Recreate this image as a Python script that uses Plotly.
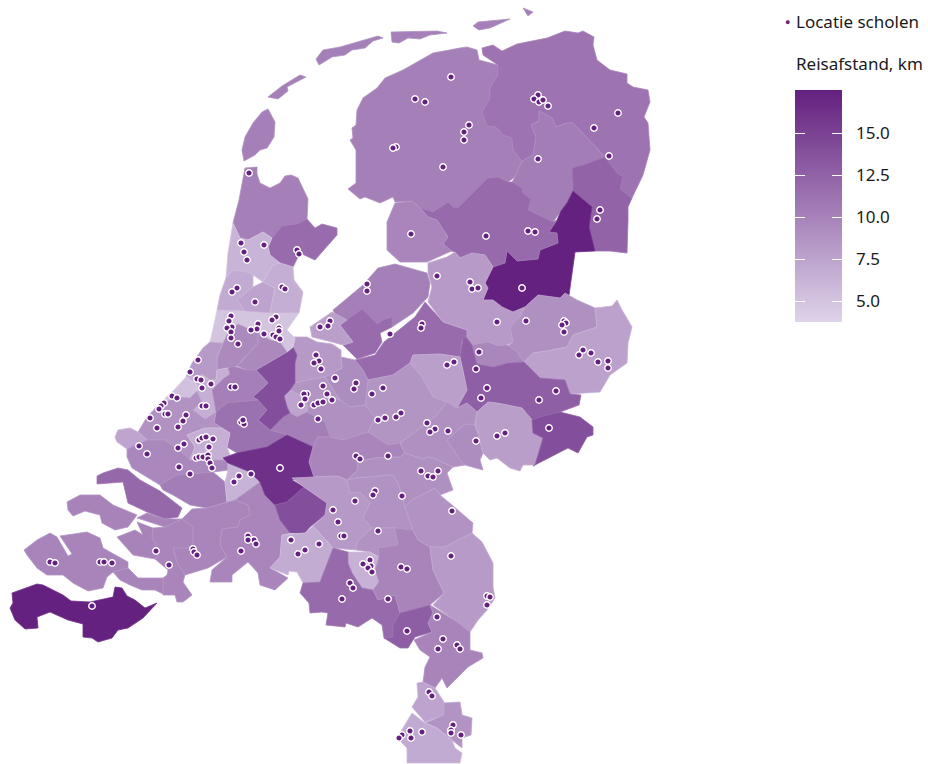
import numpy as np
import plotly.graph_objects as go
from plotly.colors import sample_colorscale

# Colour scale / legend
scale_min = 3.75
scale_max = 17.56
colorscale = [[0, "#DED4EA"], [1, "#64207F"]]
legend_ticks = [5.0, 7.5, 10.0, 12.5, 15.0]
legend_ticktext = ["5.0", "7.5", "10.0", "12.5", "15.0"]
legend_title = "Reisafstand, km"
points_name = "Locatie scholen"

# Regions: name -> travel distance, outline in map units
region_values = {
 "Texel":10.2,"Vlieland":10.2,"Terschelling":10.2,"Ameland":10.2,"Schiermonnikoog":10.2,"Rottum":10.2,
 "Friesland":10.2,"Groningen":11.1,"NoordDrenthe":10.4,"ZODrenthe":12.4,"Vechtdal":17.5,"ZWDrenthe":11.9,
 "NOPolder":9.8,"Flevoland":10.2,"Almere":11.8,"Gooi":7.8,"Veluwe":11.8,"Zwolle":8.2,"TwenteW":9.0,"TwenteO":7.7,
 "Salland":9.7,"Achterhoek":12.7,"Zutphen":7.8,"VeluweZ":8.6,"Ede":9.3,"Amersfoort":8.3,"UtrechtZ":9.0,"Zeist":8.6,
 "Nieuwegein":7.5,"Vianen":10.3,
 "Woerden":14.0,"Amsterdam":5.0,"Haarlemmermeer":9.4,"Amstelveen":9.5,"KopNH":10.2,"WestFriesland":11.8,"Alkmaar":6.2,
 "Kennemerland":6.9,"Zaan":7.5,"Waterland":6.7,"Bollen":8.2,"Wassenaar":6.6,"DenHaag":5.2,"Alphen":10.2,"Gouda":11.3,
 "Delfland":8.8,"Rotterdam":6.6,"Brielle":7.4,"Voorne":9.6,"Hoeksche":10.4,"Goeree":12.0,"Schouwen":10.0,"Tholen":10.0,
 "Philips":10.0,"WBrabant1":9.8,"WBrabant2":9.8,"WBrabant3":9.8,"Dordrecht":6.3,"Gorinchem":16.3,"Waalwijk":14.0,
 "Tiel":9.8,"Doetinchem":9.3,"Graafschap":9.0,"Arnhem":7.9,"Winterswijk":14.0,"Betuwe":9.0,
 "DenBosch":8.3,"Uden":8.8,"Oss":8.8,"Tilburg":6.8,"Eindhoven":6.4,"Weert":11.9,"Helmond":9.9,"Boxmeer":8.8,"Venlo":8.2,
 "Roermond":12.8,"MLimburg":9.9,"Sittard":7.5,"Heerlen":8.7,"Maastricht":6.9,"Walcheren":9.9,"ZBeveland":9.9,"ZVlaanderen":17.5,
}

region_paths = {
 "Texel":[(268,109),(275,122),(274,137),(267,148),(260,150),(255,155),(244,161),(242,150),(245,137),(253,123),(262,112)],
 "Vlieland":[(268,97),(282,86),(300,75),(306,77),(287,87),(288,91),(278,99)],
 "Terschelling":[(316,59),(323,50),(340,47),(378,36),(383,38),(373,41),(365,48),(352,50),(345,55),(332,57),(319,65)],
 "Ameland":[(391,32),(437,31),(447,33),(430,35),(420,39),(408,38),(399,43),(392,42)],
 "Schiermonnikoog":[(473,26),(478,22),(510,19),(490,28),(479,30)],
 "Rottum":[(523,8),(533,12),(528,16)],
 "Friesland":[(357,110),(363,98),(377,88),(385,78),(403,70),(433,53),(460,48),(467,47),(477,50),(479,60),(498,65),(498,75),(490,88),(490,98),(482,112),(487,126),(496,127),(503,135),(512,138),(513,150),(522,161),(515,177),(508,182),(498,177),(488,178),(458,208),(453,207),(448,202),(433,212),(420,208),(412,201),(395,202),(393,197),(380,203),(365,197),(360,199),(348,189),(356,183),(356,150),(350,140),(353,138),(352,128),(356,125)],
 "Groningen":[(482,48),(493,45),(502,51),(517,44),(547,38),(565,31),(578,33),(583,31),(594,37),(593,45),(597,60),(610,70),(627,74),(627,83),(633,87),(648,90),(650,102),(644,117),(648,123),(650,150),(643,175),(632,198),(620,189),(623,177),(617,173),(605,157),(573,123),(567,123),(556,127),(552,118),(539,111),(539,121),(531,125),(536,137),(533,155),(522,161),(513,150),(512,138),(503,135),(496,127),(487,126),(482,112),(490,98),(490,88),(498,75),(498,65),(483,55)],
 "NoordDrenthe":[(539,111),(552,118),(556,127),(567,123),(573,123),(605,157),(583,165),(572,168),(573,187),(573,191),(567,203),(561,211),(553,222),(528,210),(531,199),(523,193),(522,188),(512,182),(515,177),(522,161),(533,155),(536,137),(531,125),(539,121)],
 "ZODrenthe":[(572,168),(583,165),(605,157),(617,173),(623,177),(620,189),(632,198),(628,207),(628,220),(627,253),(610,251),(595,251),(589,227),(592,207),(573,191),(573,187)],
 "Vechtdal":[(573,191),(592,207),(589,227),(595,251),(575,252),(569,295),(560,298),(538,295),(525,307),(513,312),(502,307),(493,300),(483,300),(488,288),(485,283),(493,267),(505,263),(507,251),(517,261),(538,259),(540,250),(558,243),(557,233),(549,232),(557,220),(561,211),(567,203)],
 "ZWDrenthe":[(420,208),(433,212),(448,202),(453,207),(458,208),(488,178),(498,177),(508,182),(512,182),(522,188),(523,193),(531,199),(528,210),(553,222),(557,220),(549,232),(557,233),(558,243),(540,250),(538,259),(517,261),(507,251),(505,263),(493,267),(485,255),(472,253),(460,258),(455,252),(448,250),(443,243),(448,237),(437,220),(428,217)],
 "NOPolder":[(387,222),(395,203),(412,201),(420,208),(428,217),(437,220),(448,237),(443,244),(452,251),(447,253),(427,262),(400,262),(387,250)],
 "Flevoland":[(333,310),(363,285),(378,268),(395,264),(427,273),(430,283),(428,297),(413,313),(392,327),(392,317),(383,320),(377,324),(362,309),(340,325)],
 "Almere":[(340,325),(362,309),(377,324),(383,320),(392,317),(392,327),(380,333),(382,342),(375,353),(357,359),(343,345),(353,342)],
 "Gooi":[(310,327),(332,312),(347,320),(340,325),(353,342),(343,345),(332,342),(317,338),(312,337)],
 "Veluwe":[(425,302),(443,322),(467,330),(467,338),(462,340),(460,357),(440,354),(413,355),(410,363),(393,375),(368,380),(363,370),(355,360),(375,355),(384,342),(400,329),(415,317)],
 "Zwolle":[(455,252),(460,258),(472,253),(485,255),(493,267),(485,283),(488,288),(483,300),(493,300),(502,307),(513,312),(525,307),(520,317),(510,327),(513,342),(507,345),(498,346),(488,342),(472,345),(467,338),(467,330),(443,322),(428,302),(432,287),(428,273),(428,263),(447,257)],
 "TwenteW":[(525,307),(538,295),(560,298),(565,293),(577,300),(595,308),(597,327),(582,332),(573,335),(567,347),(547,351),(533,353),(524,362),(517,352),(508,346),(513,342),(510,327),(520,317)],
 "TwenteO":[(595,308),(612,306),(617,300),(622,310),(632,327),(628,343),(627,363),(610,375),(600,392),(570,394),(565,380),(540,378),(524,362),(533,353),(547,351),(567,347),(573,335),(582,332),(597,327)],
 "Salland":[(472,345),(488,342),(498,346),(507,345),(517,352),(524,362),(508,363),(493,367),(477,364)],
 "Achterhoek":[(463,338),(467,338),(472,345),(477,364),(493,367),(508,363),(524,362),(540,378),(565,380),(570,394),(581,395),(579,405),(560,412),(540,417),(532,420),(522,408),(497,403),(488,402),(477,412),(467,403),(457,408),(467,390),(463,370),(460,357)],
 "Zutphen":[(413,355),(440,354),(460,357),(463,370),(467,390),(457,408),(447,402),(433,397),(422,377),(410,363)],
 "VeluweZ":[(410,363),(422,377),(433,397),(447,402),(437,415),(422,427),(400,443),(388,445),(368,432),(375,417),(365,405),(368,380),(393,375)],
 "Ede":[(341,357),(355,360),(363,370),(368,380),(365,405),(350,407),(340,400),(325,377),(342,368)],
 "Amersfoort":[(294,337),(307,337),(317,342),(332,344),(341,350),(341,357),(342,368),(325,377),(307,380),(295,383),(295,363),(297,355),(293,347)],
 "UtrechtZ":[(307,407),(333,397),(340,400),(350,407),(365,405),(375,417),(368,432),(343,440),(330,437),(325,422),(307,412)],
 "Zeist":[(295,383),(307,380),(325,377),(340,400),(333,397),(307,407),(307,412),(297,417),(290,413),(287,407),(284,396),(290,390)],
 "Nieuwegein":[(290,390),(284,396),(287,407),(290,413),(297,417),(307,412),(307,405),(300,395)],
 "Vianen":[(270,430),(283,417),(290,413),(297,417),(307,412),(325,422),(330,437),(318,437),(313,447),(287,435)],
 "Woerden":[(293,347),(297,355),(295,363),(295,383),(290,390),(284,396),(287,407),(290,413),(283,417),(270,430),(258,420),(267,410),(253,397),(268,383),(256,370),(287,352)],
 "Amsterdam":[(217,310),(245,311),(270,313),(299,313),(287,330),(295,338),(293,347),(287,352),(280,342),(270,340),(258,333),(245,327),(238,324),(228,333),(223,343),(210,342)],
 "Haarlemmermeer":[(238,324),(245,327),(258,333),(258,343),(243,360),(237,366),(217,370),(217,358),(223,343),(228,333)],
 "Amstelveen":[(258,333),(270,340),(280,342),(287,352),(256,370),(247,370),(237,366),(243,360),(258,343)],
 "KopNH":[(245,168),(257,167),(257,174),(260,183),(270,188),(280,183),(285,176),(291,175),(298,178),(308,199),(307,219),(297,224),(282,226),(272,238),(263,232),(248,240),(240,238),(233,223),(239,200)],
 "WestFriesland":[(282,226),(297,224),(307,219),(315,228),(322,224),(337,228),(337,235),(330,243),(315,260),(300,253),(293,267),(280,263),(270,255),(268,247),(272,238)],
 "Alkmaar":[(233,223),(240,238),(248,240),(263,232),(272,238),(268,247),(270,255),(280,263),(273,265),(263,282),(253,275),(233,270),(226,278),(228,253)],
 "Kennemerland":[(226,278),(233,270),(247,272),(253,275),(253,287),(237,300),(245,311),(217,310),(220,295)],
 "Zaan":[(237,300),(253,287),(263,282),(275,288),(270,313),(245,311)],
 "Waterland":[(273,265),(280,263),(293,267),(294,280),(303,292),(299,313),(270,313),(275,288),(263,282)],
 "Bollen":[(210,342),(223,343),(217,358),(217,370),(216,380),(210,380),(202,375),(192,377),(186,377),(192,363),(203,348)],
 "Wassenaar":[(217,370),(228,368),(230,374),(223,379),(212,390),(216,412),(205,419),(193,410),(202,402),(197,391),(197,385),(186,377),(192,377),(202,375),(210,380),(216,380)],
 "DenHaag":[(186,377),(197,385),(197,391),(190,398),(178,397),(165,402),(160,403),(172,392)],
 "Alphen":[(233,366),(247,370),(256,370),(268,383),(253,397),(258,400),(227,403),(216,412),(212,390),(223,379),(230,374),(228,368)],
 "Gouda":[(227,403),(258,400),(267,410),(258,420),(270,430),(287,435),(267,447),(237,453),(227,447),(230,433),(222,428),(214,423),(216,412)],
 "Delfland":[(147,417),(160,403),(165,402),(178,397),(190,398),(197,391),(202,402),(193,410),(205,419),(216,412),(214,423),(222,428),(205,428),(187,435),(195,447),(190,460),(185,455),(165,440),(147,440),(138,432)],
 "Rotterdam":[(187,435),(205,428),(222,428),(230,433),(227,447),(232,460),(190,460),(195,447)],
 "Brielle":[(115,437),(118,430),(130,428),(138,432),(147,440),(127,449),(117,442)],
 "Voorne":[(127,449),(147,440),(165,440),(185,455),(190,460),(232,460),(228,463),(230,470),(213,472),(177,475),(160,485),(132,468),(127,457)],
 "Hoeksche":[(160,485),(177,475),(213,472),(225,482),(227,502),(207,508),(190,505),(173,495),(163,490)],
 "Dordrecht":[(225,482),(228,470),(228,463),(250,472),(260,482),(235,500),(227,502)],
 "Goeree":[(97,476),(103,473),(118,468),(128,470),(140,480),(160,491),(182,508),(178,517),(165,519),(147,512),(128,503),(123,482),(97,484)],
 "Schouwen":[(67,502),(80,495),(100,495),(113,505),(137,515),(128,527),(115,530),(102,523),(100,515),(85,511),(73,516),(68,510)],
 "Tholen":[(137,518),(147,513),(165,519),(182,519),(165,527),(153,523)],
 "Philips":[(117,537),(135,530),(143,535),(137,522),(153,528),(152,537),(160,553),(155,559),(133,555),(122,542)],
 "WBrabant1":[(153,528),(165,527),(182,519),(193,527),(193,548),(173,548),(177,562),(185,575),(183,582),(192,595),(183,602),(177,602),(175,595),(163,595),(163,578),(167,575),(168,570),(155,559),(160,553),(152,537)],
 "WBrabant2":[(182,519),(192,509),(207,508),(227,502),(235,500),(248,505),(250,515),(240,520),(238,527),(222,529),(220,545),(227,557),(208,568),(185,575),(177,562),(173,548),(193,548),(193,527)],
 "WBrabant3":[(248,505),(235,500),(260,482),(265,495),(275,505),(280,520),(290,533),(282,535),(280,557),(270,568),(288,578),(275,590),(260,585),(258,573),(248,562),(232,575),(232,582),(210,582),(212,570),(227,557),(220,545),(222,529),(238,527),(240,520),(250,515)],
 "Gorinchem":[(223,458),(237,453),(267,447),(287,435),(313,447),(309,462),(314,477),(292,480),(304,487),(287,502),(275,505),(265,495),(260,482),(250,472),(228,463)],
 "Waalwijk":[(304,487),(327,503),(325,515),(310,527),(305,533),(290,533),(280,520),(275,505),(287,502)],
 "Tiel":[(313,447),(318,437),(330,437),(343,440),(368,432),(388,445),(400,443),(405,453),(400,457),(375,458),(357,462),(358,470),(347,480),(338,476),(314,477),(309,462)],
 "Betuwe":[(358,470),(357,462),(375,458),(400,457),(405,453),(423,459),(428,457),(433,458),(453,467),(447,473),(453,490),(440,495),(435,488),(412,500),(405,507),(398,483),(393,475),(355,478),(347,480)],
 "Graafschap":[(400,443),(422,427),(437,415),(447,402),(457,408),(467,403),(477,412),(475,425),(465,424),(447,440),(460,460),(465,465),(453,467),(433,458),(428,457),(423,459),(405,453)],
 "Doetinchem":[(465,424),(475,425),(478,433),(483,453),(480,460),(483,470),(465,465),(460,460),(447,440)],
 "Arnhem":[(477,412),(488,402),(497,403),(522,408),(532,420),(533,433),(543,438),(535,465),(523,465),(520,471),(510,468),(497,458),(490,460),(483,453),(478,433),(475,425)],
 "Winterswijk":[(532,420),(540,417),(560,412),(580,417),(593,427),(593,435),(587,437),(578,453),(568,448),(533,466),(535,465),(543,438),(533,433)],
 "DenBosch":[(292,478),(314,477),(338,476),(347,480),(350,493),(360,492),(370,503),(363,518),(372,528),(357,542),(356,550),(333,548),(313,526),(325,515),(327,503),(304,487)],
 "Uden":[(347,480),(355,478),(393,475),(398,483),(405,507),(413,530),(395,528),(372,528),(363,518),(370,503),(360,492),(350,493)],
 "Oss":[(372,528),(395,528),(398,545),(378,548),(379,557),(370,552),(356,550),(357,542)],
 "Tilburg":[(282,535),(305,533),(313,526),(333,548),(320,582),(303,583),(297,572),(289,571),(288,575),(270,568),(280,557)],
 "Eindhoven":[(348,552),(370,552),(379,557),(375,570),(379,582),(373,590),(362,588),(352,573),(348,563)],
 "Weert":[(333,548),(348,552),(348,563),(352,573),(362,588),(373,590),(378,600),(395,595),(400,613),(393,625),(393,637),(384,638),(382,625),(372,618),(358,627),(346,623),(345,627),(326,625),(328,613),(322,612),(310,613),(309,603),(300,593),(303,583),(320,582)],
 "Helmond":[(398,545),(395,528),(413,530),(418,540),(430,547),(433,570),(444,593),(430,605),(400,613),(395,595),(378,600),(373,590),(379,582),(375,570),(379,557),(378,548)],
 "Boxmeer":[(405,507),(412,500),(435,488),(440,495),(452,505),(473,523),(472,533),(462,538),(445,547),(430,547),(418,540),(413,530)],
 "Venlo":[(430,547),(445,547),(462,538),(472,533),(482,542),(493,563),(493,587),(495,598),(487,610),(478,620),(470,632),(457,622),(433,605),(444,593),(433,570)],
 "Roermond":[(400,613),(430,605),(433,613),(428,623),(432,632),(415,637),(408,648),(400,648),(384,638),(393,637),(393,625)],
 "MLimburg":[(433,613),(430,605),(457,622),(470,632),(470,650),(482,653),(483,658),(468,667),(447,688),(442,678),(435,688),(423,682),(425,667),(430,657),(420,650),(414,640),(432,632),(428,623)],
 "Sittard":[(417,683),(423,682),(435,688),(444,702),(444,715),(425,722),(412,707),(418,697)],
 "Heerlen":[(444,703),(460,702),(462,715),(472,718),(471,735),(462,738),(462,748),(452,740),(437,728),(425,723),(444,715)],
 "Maastricht":[(412,713),(425,723),(437,728),(452,740),(455,748),(462,753),(460,763),(407,763),(407,748),(397,738)],
 "Walcheren":[(24,550),(37,540),(50,533),(57,537),(68,556),(72,554),(60,536),(87,532),(100,538),(103,548),(128,562),(128,568),(113,572),(107,577),(103,588),(88,591),(73,583),(63,575),(47,575),(37,568),(27,555)],
 "ZBeveland":[(113,572),(128,568),(138,578),(163,578),(163,594),(155,590),(142,590),(130,585),(120,580)],
 "ZVlaanderen":[(12,593),(37,584),(43,585),(63,595),(71,601),(90,602),(113,597),(115,587),(122,588),(127,596),(135,600),(145,608),(157,603),(143,618),(128,628),(118,630),(112,638),(98,642),(92,638),(83,637),(83,624),(68,620),(50,612),(37,617),(38,628),(25,629),(15,620),(10,608),(13,603)],
}

# School locations (map units)
school_x = [451,415,425,396,393,443,249,411,538,534,539,543,548,618,469,464,464,594,609,538,600,597,528,535,486,
 241,264,244,247,297,299,237,232,282,285,255,231,229,232,227,231,231,238,276,272,258,257,251,279,279,264,273,276,280,
 330,328,320,316,319,314,321,335,323,327,332,307,304,305,301,314,318,323,318,198,190,197,201,211,202,231,235,172,177,
 164,161,159,150,165,168,186,183,178,157,202,206,241,244,243,199,202,206,213,184,178,209,139,147,196,199,203,208,208,
 437,470,472,478,522,367,367,497,526,564,566,562,564,422,421,390,583,579,591,598,608,608,479,454,447,476,487,481,556,539,
 549,505,497,476,448,427,435,430,401,396,385,378,383,372,356,354,335,356,360,388,421,428,433,438,375,
 179,190,251,239,234,210,212,280,248,254,248,256,241,193,194,197,156,169,50,55,100,104,112,92,
 373,402,355,333,452,338,378,341,344,291,319,305,298,451,370,363,371,368,372,401,407,350,353,342,388,487,490,487,437,407,
 443,457,460,438,429,432,453,451,451,461,422,410,411,402,399]
school_y = [77,99,102,147,148,167,173,234,95,99,102,100,106,113,125,132,140,128,156,159,210,219,231,232,236,
 243,245,252,260,250,254,288,292,287,289,302,316,321,327,328,332,338,344,317,320,324,329,330,328,331,334,335,337,339,
 321,326,327,355,361,363,369,379,386,394,400,394,394,399,405,405,403,402,419,360,372,379,380,384,388,387,387,396,398,
 403,406,409,418,414,414,415,421,427,428,406,406,422,424,420,440,438,437,439,444,448,447,446,454,458,457,457,455,459,
 276,282,289,288,288,284,291,322,321,321,323,325,332,324,328,334,350,355,353,362,361,368,352,362,365,369,388,398,391,400,
 428,433,436,441,431,423,429,432,413,417,418,420,388,394,383,389,378,456,459,456,471,476,477,471,491,
 467,474,474,476,482,463,468,468,536,540,540,544,551,549,552,555,551,565,562,563,562,562,563,606,
 495,496,501,510,511,522,531,536,536,540,544,550,554,556,560,564,566,568,572,567,569,583,588,599,599,596,597,605,617,631,
 639,645,649,649,692,696,725,730,733,735,732,731,738,735,738]

fig = go.Figure()
for name, path in region_paths.items():
    t = (region_values[name] - scale_min) / (scale_max - scale_min)
    fig.add_trace(go.Scatter(
        x=[p[0] for p in path] + [path[0][0]],
        y=[p[1] for p in path] + [path[0][1]],
        mode="lines", fill="toself", name=name,
        fillcolor=sample_colorscale(colorscale, t)[0],
        line=dict(color=sample_colorscale(colorscale, max(t - 0.09, 0))[0], width=0.8),
        hoverinfo="name", showlegend=False,
    ))

fig.add_trace(go.Scatter(
    x=school_x, y=school_y, mode="markers", name=points_name, showlegend=False,
    marker=dict(size=6.5, color="#64207F", line=dict(color="white", width=1.4)),
))

ramp = np.linspace(scale_min, scale_max, 120)
fig.add_trace(go.Heatmap(
    x=[0, 1], y=ramp, z=[[v, v] for v in ramp], xaxis="x2", yaxis="y2",
    zmin=scale_min, zmax=scale_max, colorscale=colorscale, showscale=False, hoverinfo="skip",
))

W, H = 928, 764
FONT = "Noto Sans"
TEXT = "#1a1a1a"
fig.update_layout(
    width=W, height=H, margin=dict(l=0, r=0, t=0, b=0),
    autosize=False, showlegend=False,
    paper_bgcolor="white", plot_bgcolor="white",
    font=dict(family=FONT, size=17, color=TEXT),
    xaxis=dict(range=[0, W], domain=[0, 1], visible=False, fixedrange=True),
    yaxis=dict(range=[H, 0], domain=[0, 1], visible=False, fixedrange=True),
    xaxis2=dict(domain=[795/W, 842/W], anchor="y2", range=[-0.5, 1.5], visible=False, fixedrange=True),
    yaxis2=dict(domain=[1-322/H, 1-90/H], anchor="x2", range=[scale_min, scale_max], side="right",
                tickmode="array", tickvals=legend_ticks, ticktext=legend_ticktext,
                ticks="inside", ticklen=10, tickcolor="white", tickwidth=1, mirror="ticks",
                showline=False, showgrid=False, zeroline=False, ticklabelstandoff=13,
                tickfont=dict(family=FONT, size=17, color=TEXT), fixedrange=True),
    annotations=[
        dict(text='<span style="color:#64207F;font-size:9px">●</span>', x=787/W, y=1-22/H, xref="paper", yref="paper",
             xanchor="center", yanchor="middle", showarrow=False, font=dict(family=FONT, size=6)),
        dict(text=points_name, x=794/W, y=1-22/H, xref="paper", yref="paper", xanchor="left",
             yanchor="middle", showarrow=False, font=dict(family=FONT, size=17, color=TEXT)),
        dict(text=legend_title, x=793.5/W, y=1-64/H, xref="paper", yref="paper", xanchor="left",
             yanchor="middle", showarrow=False, font=dict(family=FONT, size=17, color=TEXT)),
    ],
)
fig.write_html("out.html", config=dict(displayModeBar=False),
               post_script="document.body.style.margin='0';document.documentElement.style.overflow='hidden';")
